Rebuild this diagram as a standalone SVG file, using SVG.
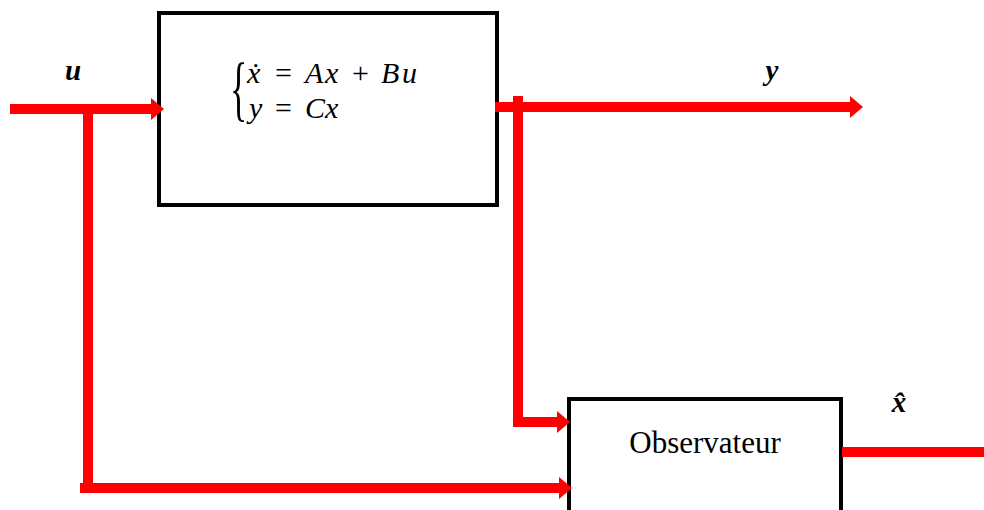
<svg xmlns="http://www.w3.org/2000/svg" width="984" height="510" viewBox="0 0 984 510">
<style>
.box{fill:#fff;stroke:#000;stroke-width:4}
.wire{fill:none;stroke:#ff0000;stroke-width:10}
.lbl{font-family:"Liberation Serif",serif;font-weight:bold;font-style:italic;font-size:29px;fill:#000}
.eq{font-family:"Liberation Serif",serif;font-style:italic;font-size:30px;fill:#000}
.op{font-style:normal}
.txt{font-family:"Liberation Serif",serif;font-size:31px;fill:#000}
</style>
<defs>
<marker id="ah" markerUnits="userSpaceOnUse" markerWidth="14" markerHeight="24" refX="0" refY="11" orient="auto" overflow="visible">
<path d="M0,0 L13,11 L0,22 z" fill="#ff0000"/>
</marker>
</defs>
<g id="system">
<rect class="box" x="159" y="13" width="338" height="192"/>
<text transform="translate(230,112) scale(0.5,1)" style="font-family:'Liberation Serif',serif;font-size:72px;fill:#000">{</text>
<text class="eq" y="83"><tspan x="247">ẋ</tspan><tspan class="op" x="275">=</tspan><tspan x="305">A</tspan><tspan x="325">x</tspan><tspan class="op" x="352">+</tspan><tspan x="381">B</tspan><tspan x="402">u</tspan></text>
<text class="eq" y="118"><tspan x="249">y</tspan><tspan class="op" x="275">=</tspan><tspan x="305">C</tspan><tspan x="325">x</tspan></text>
</g>
<g id="observer">
<rect class="box" x="569" y="399" width="272" height="125"/>
<text class="txt" x="705" y="453" text-anchor="middle">Observateur</text>
</g>
<g id="connectors">
<path class="wire" d="M10,109 H151" marker-end="url(#ah)"/>
<path class="wire" d="M88,109 V488"/>
<path class="wire" d="M80,488 H559" marker-end="url(#ah)"/>
<path class="wire" d="M495,107 H850" marker-end="url(#ah)"/>
<path class="wire" d="M518,96 V422"/>
<path class="wire" d="M513,422 H557" marker-end="url(#ah)"/>
<path class="wire" d="M842,452 H984"/>
</g>
<g id="labels">
<text class="lbl" x="73" y="80" text-anchor="middle">u</text>
<text class="lbl" x="772" y="80" text-anchor="middle">y</text>
<text class="lbl" x="899" y="412" text-anchor="middle">x̂</text>
</g>
</svg>
